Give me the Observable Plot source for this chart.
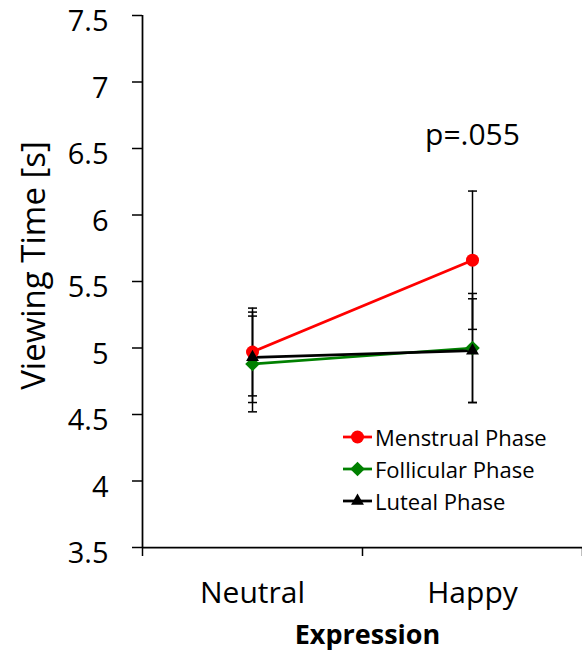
<!DOCTYPE html>
<html><head><meta charset="utf-8">
<script src="https://cdn.jsdelivr.net/npm/d3@7"></script>
<script src="https://cdn.jsdelivr.net/npm/@observablehq/plot@0.6"></script>
<style>
body{margin:0;background:#fff;font-family:"Open Sans",sans-serif}
#wrap{position:relative;width:582px;height:651px}
#legend{position:absolute;left:343px;top:421px;font-size:22px;color:#000}
#legend .row{display:flex;align-items:center;height:32px}
#legend svg{display:block;margin-right:2px}
</style></head><body><div id="wrap"><div id="legend"></div></div>
<script>
const expressions = ["Neutral", "Happy"];
const seriesNames = ["Menstrual Phase", "Follicular Phase", "Luteal Phase"];
const seriesColors = ["#ff0000", "#008000", "#000000"];
const seriesSymbols = ["circle", "diamond2", "triangle"];
const menstrual = [4.97, 5.66];
const menstrualErr = [0.33, 0.52];
const follicular = [4.88, 5.00];
const follicularErr = [0.36, 0.41];
const luteal = [4.93, 4.98];
const lutealErr = [0.34, 0.39];
const yTicks = [3.5, 4, 4.5, 5, 5.5, 6, 6.5, 7, 7.5];
const pLabel = "p=.055";
const pAt = {expression: "Happy", value: 6.53};
const yTitle = "Viewing Time [s]";
const xTitle = "Expression";

const valuesBySeries = [menstrual, follicular, luteal];
const errBySeries = [menstrualErr, follicularErr, lutealErr];
const rows = [];
seriesNames.forEach((s, si) => {
  expressions.forEach((e, ei) => {
    const v = valuesBySeries[si][ei], err = errBySeries[si][ei];
    rows.push({series: s, expression: e, pos: ei + 0.5, value: v, lo: v - err, hi: v + err});
  });
});

const capSymbol = {draw(ctx, size) { const r = 4.5; ctx.moveTo(-r, 0); ctx.lineTo(r, 0); }};
const markerR = [6.5, 6.6, 4.8];

const marks = [
  // error bars
  Plot.ruleX(rows, {x: "pos", y1: "lo", y2: "hi", stroke: "#000", strokeWidth: 1.5}),
  Plot.dot(rows, {x: "pos", y: "lo", symbol: capSymbol, r: 5, stroke: "#000", strokeWidth: 1.5}),
  Plot.dot(rows, {x: "pos", y: "hi", symbol: capSymbol, r: 5, stroke: "#000", strokeWidth: 1.5}),
  // series lines
  Plot.line(rows, {x: "pos", y: "value", z: "series", stroke: "series", strokeWidth: 2.75}),
];
seriesNames.forEach((s, si) => {
  marks.push(Plot.dot(rows.filter(d => d.series === s), {x: "pos", y: "value", fill: "series", symbol: seriesSymbols[si], r: markerR[si], stroke: "none"}));
});
marks.push(
  Plot.ruleY([3.5], {stroke: "#000", strokeWidth: 1.75}),
  Plot.ruleX([0], {y1: 3.5, y2: 7.5, stroke: "#000", strokeWidth: 1.75}),
  Plot.axisY({ticks: yTicks, tickSize: 10, tickPadding: 24, fontSize: 29, strokeWidth: 1.5, textStroke: "none", tickFormat: d => String(d), label: null}),
  Plot.axisX({ticks: [0, 1, 2], tickSize: 9, strokeWidth: 1.5, tickFormat: () => "", label: null}),
  Plot.axisX({ticks: expressions.map((e, i) => i + 0.5), tickSize: 0, tickPadding: 34, fontSize: 30, tickFormat: i => expressions[Math.floor(i)], label: null}),
  Plot.text([yTitle], {frameAnchor: "left", text: d => d, rotate: -90, dx: -108, dy: -16, fontSize: 33, textAnchor: "middle", lineAnchor: "middle"}),
  Plot.text([xTitle], {frameAnchor: "bottom", text: d => d, dx: 5, dy: 96, fontSize: 27, fontWeight: "bold", lineAnchor: "bottom"}),
  Plot.text([pAt], {x: d => expressions.indexOf(d.expression) + 0.5, y: "value", text: () => pLabel, fontSize: 30, lineAnchor: "bottom"})
);

const chart = Plot.plot({
  width: 582, height: 651,
  marginLeft: 142, marginRight: 0, marginTop: 15, marginBottom: 104,
  style: {fontFamily: "Open Sans", color: "#000", background: "#fff", overflow: "visible"},
  x: {domain: [0, 2], axis: null},
  y: {domain: [3.5, 7.5], axis: null},
  color: {domain: seriesNames, range: seriesColors},
  marks
});
// shift y tick labels slightly below their ticks, as in the reference
d3.select(chart).selectAll("g[aria-label='y-axis tick label'] text").attr("dy", null);
d3.select(chart).selectAll("g[aria-label='y-axis tick label']").attr("transform", function() {
  const t = this.getAttribute("transform") || "";
  return t + " translate(0,6.5)";
});
document.getElementById("wrap").prepend(chart);

// legend
const legend = d3.select("#legend");
seriesNames.forEach((s, si) => {
  const row = legend.append("div").attr("class", "row");
  const svg = row.append("svg").attr("width", 30).attr("height", 20);
  svg.append("line").attr("x1", 0).attr("x2", 29).attr("y1", 10).attr("y2", 10).attr("stroke", seriesColors[si]).attr("stroke-width", 2.75);
  const sym = {circle: d3.symbolCircle, diamond2: d3.symbolDiamond2, triangle: d3.symbolTriangle}[seriesSymbols[si]];
  svg.append("path").attr("transform", "translate(14.5,10)").attr("d", d3.symbol(sym, Math.PI * markerR[si] * markerR[si])()).attr("fill", seriesColors[si]);
  row.append("span").text(s);
});
</script></body></html>
